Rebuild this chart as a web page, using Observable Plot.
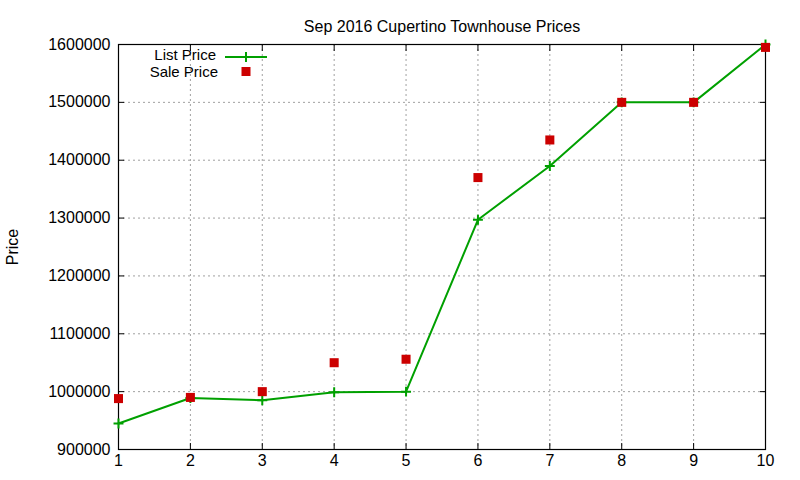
<!DOCTYPE html>
<html>
<head>
<meta charset="utf-8">
<script src="https://cdn.jsdelivr.net/npm/d3@7"></script>
<script src="https://cdn.jsdelivr.net/npm/@observablehq/plot@0.6"></script>
<style>
  html, body { margin: 0; padding: 0; background: #fff; }
  svg { font-family: "Liberation Sans", Arial, sans-serif; }
</style>
</head>
<body>
<div id="chart"></div>
<script>
const title = "Sep 2016 Cupertino Townhouse Prices";
const yLabel = "Price";
const months = [1, 2, 3, 4, 5, 6, 7, 8, 9, 10];
const listPrice = [945000, 989000, 985000, 999000, 1000000, 1297000, 1390000, 1500000, 1500000, 1600000];
const salePrice = [988000, 990000, 1000000, 1050000, 1056000, 1370000, 1435000, 1500000, 1500000, 1595000];
const yTicks = [900000, 1000000, 1100000, 1200000, 1300000, 1400000, 1500000, 1600000];
const seriesNames = ["List Price", "Sale Price"];

const listData = months.map((m, i) => ({x: m, y: listPrice[i]}));
const saleData = months.map((m, i) => ({x: m, y: salePrice[i]}));

const green = "#00a000";
const red = "#cc0000";

const chart = Plot.plot({
  width: 800,
  height: 480,
  marginLeft: 118,
  marginRight: 35,
  marginTop: 44,
  marginBottom: 31,
  style: {fontSize: "16px", fontFamily: "Liberation Sans, Arial, sans-serif", color: "#000", background: "#fff"},
  x: {domain: [1, 10]},
  y: {domain: [900000, 1600000]},
  marks: [
    Plot.gridX(months, {stroke: "#a0a0a0", strokeOpacity: 1, strokeDasharray: "2,3"}),
    Plot.gridY(yTicks, {stroke: "#a0a0a0", strokeOpacity: 1, strokeDasharray: "2,3"}),
    Plot.axisX(months, {anchor: "bottom", tickSize: -6, tickPadding: 11, tickFormat: d => String(d), label: null}),
    Plot.axisX(months, {anchor: "top", tickSize: -6, tickFormat: () => "", label: null}),
    Plot.axisY(yTicks, {anchor: "left", tickSize: -6, tickPadding: 14, tickFormat: d => String(d), label: yLabel, labelAnchor: "center", labelArrow: "none", labelOffset: 112}),
    Plot.axisY(yTicks, {anchor: "right", tickSize: -6, tickFormat: () => "", label: null}),
    Plot.frame({stroke: "#000", strokeWidth: 1.2}),
    Plot.line(listData, {x: "x", y: "y", stroke: green, strokeWidth: 2}),
    Plot.dot(listData, {x: "x", y: "y", symbol: "plus", stroke: green, strokeWidth: 2, r: 3.3}),
    Plot.dot(saleData, {x: "x", y: "y", symbol: "square", fill: red, r: 5.1}),
    Plot.text([title], {frameAnchor: "top", dy: -24, fontSize: 16})
  ]
});

// Legend (gnuplot style, inside the plot, top-left)
const svg = d3.select(chart);
const lg = svg.append("g").attr("font-size", 15).attr("font-family", "Liberation Sans, Arial, sans-serif");
lg.append("text").attr("x", 216).attr("y", 55).attr("text-anchor", "end").attr("dy", "0.35em").text(seriesNames[0]);
lg.append("line").attr("x1", 225).attr("x2", 267).attr("y1", 57).attr("y2", 57).attr("stroke", green).attr("stroke-width", 2);
lg.append("path").attr("d", d3.symbol(d3.symbolPlus, Math.PI * 11)()).attr("transform", "translate(246,57)").attr("fill", "none").attr("stroke", green).attr("stroke-width", 2);
lg.append("text").attr("x", 218).attr("y", 72).attr("text-anchor", "end").attr("dy", "0.35em").text(seriesNames[1]);
lg.append("rect").attr("x", 241.5).attr("y", 67).attr("width", 9).attr("height", 9).attr("fill", red);

document.getElementById("chart").appendChild(chart);
</script>
</body>
</html>
